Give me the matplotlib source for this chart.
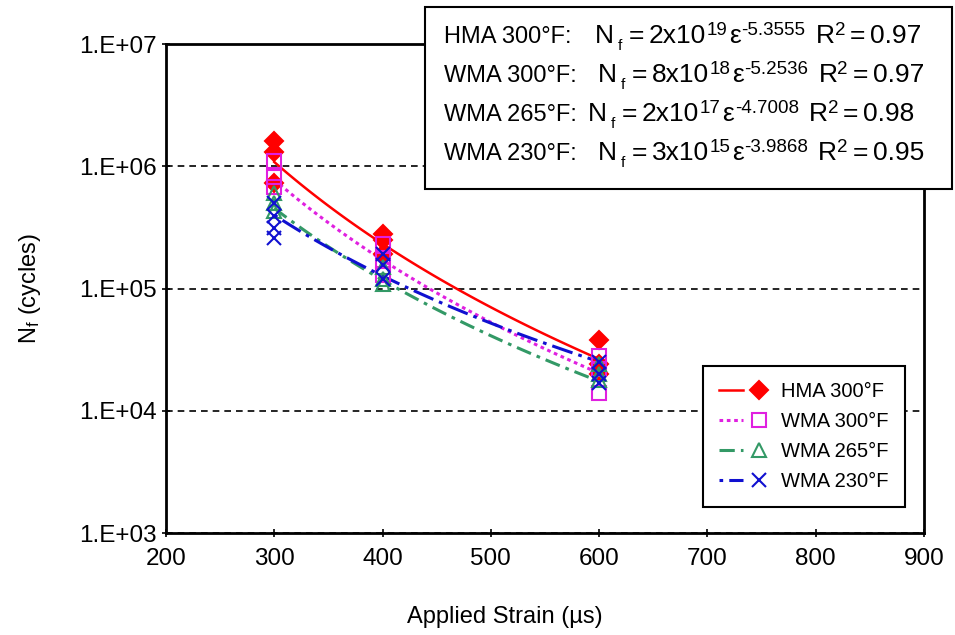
import numpy as np
import matplotlib
matplotlib.use("Agg")
import matplotlib.pyplot as plt
from matplotlib.lines import Line2D
from matplotlib.legend_handler import HandlerTuple
from matplotlib.patches import Rectangle
from matplotlib.transforms import IdentityTransform
from matplotlib.ticker import FixedLocator, FuncFormatter, NullLocator

plt.rcParams['font.family'] = ['Liberation Sans', 'DejaVu Sans']
plt.rcParams['mathtext.fontset'] = 'custom'
plt.rcParams['mathtext.rm'] = 'Liberation Sans'
plt.rcParams['mathtext.default'] = 'regular'

mixes = ["HMA 300°F", "WMA 300°F", "WMA 265°F", "WMA 230°F"]
hma300_x = [300, 300, 300, 400, 400, 400, 600, 600, 600]
hma300_y = [1.6e6, 1.3e6, 7.3e5, 2.8e5, 2.5e5, 1.9e5, 3.8e4, 2.4e4, 2.0e4]
wma300_x = [300, 300, 300, 400, 400, 400, 600, 600, 600]
wma300_y = [1.1e6, 8.2e5, 6.8e5, 2.3e5, 1.7e5, 1.3e5, 2.8e4, 2.2e4, 1.4e4]
wma265_x = [300, 300, 300, 400, 400, 400, 600, 600, 600]
wma265_y = [6.0e5, 5.0e5, 4.3e5, 1.5e5, 1.2e5, 1.08e5, 2.4e4, 2.0e4, 1.8e4]
wma230_x = [300, 300, 300, 300, 400, 400, 400, 600, 600, 600]
wma230_y = [5.0e5, 3.9e5, 3.1e5, 2.6e5, 1.9e5, 1.55e5, 1.2e5, 2.5e4, 2.0e4, 1.7e4]

# power-law fits as printed in the box: Nf = a * eps^b
fit_a = [2e19, 8e18, 2e17, 3e15]
fit_b = [-5.3555, -5.2536, -4.7008, -3.9868]
fit_r2 = [0.97, 0.97, 0.98, 0.95]
a_mant = ["2x10", "8x10", "2x10", "3x10"]
a_exp = ["19", "18", "17", "15"]
lbl_txt = ["HMA 300°F:", "WMA 300°F:", "WMA 265°F:", "WMA 230°F:"]

colors = ["#ff0000", "#e020e0", "#339966", "#1010d0"]
styles = ["-", (0, (1.2, 1.2)), (0, (5, 2, 1.2, 2)), (0, (1.2, 2, 7, 2))]
markers = ["D", "s", "^", "x"]
xs = [hma300_x, wma300_x, wma265_x, wma230_x]
ys = [hma300_y, wma300_y, wma265_y, wma230_y]

fig = plt.figure(figsize=(9.55, 6.35), dpi=100)
ax = fig.add_axes([0.1738, 0.1606, 0.7937, 0.7701])

eps = np.linspace(300, 600, 100)
handles = []
for i in range(4):
    mfc = colors[i] if markers[i] == "D" else "none"
    ms = [9, 10, 10, 10][i]
    ax.plot(eps, fit_a[i] * eps ** fit_b[i], color=colors[i], ls=styles[i],
            lw=2.2 if i else 1.8, zorder=2)
    ax.plot(xs[i], ys[i], ls="none", marker=markers[i], ms=ms,
            mfc=mfc, mec=colors[i], mew=1.5, zorder=3)
    ln = Line2D([], [], color=colors[i], ls=styles[i], lw=2.2 if i else 1.8)
    mk = Line2D([], [], ls="none", marker=markers[i], ms=ms,
                mfc=mfc, mec=colors[i], mew=1.5)
    handles.append((ln, mk))

ax.set_yscale("log")
ax.set_xlim(200, 900)
ax.set_ylim(1e3, 1e7)
ax.set_xticks(range(200, 901, 100))
ax.yaxis.set_major_locator(FixedLocator([1e3, 1e4, 1e5, 1e6, 1e7]))
ax.yaxis.set_minor_locator(NullLocator())
ax.yaxis.set_major_formatter(FuncFormatter(lambda v, p: "1.E+%02d" % int(round(np.log10(v)))))
ax.tick_params(labelsize=17.5, length=6, width=1.2, direction="inout")
ax.tick_params(axis="x", pad=8)
ax.yaxis.grid(True, color="black", ls=(0, (4, 3)), lw=1.2)
for s in ax.spines.values():
    s.set_linewidth(2)

ax.set_xlabel("Applied Strain (µs)", fontsize=17, labelpad=26)
ax.xaxis.label.set_x(0.447)
ax.set_ylabel("N$_f$ (cycles)", fontsize=17, labelpad=26)

leg = ax.legend(handles, mixes, handler_map={tuple: HandlerTuple(ndivide=None, pad=0.2)},
                loc="upper left", bbox_to_anchor=(0.7084, 0.3415), borderaxespad=0,
                fontsize=14.5, handlelength=2.6, handletextpad=0.5, labelspacing=0.55,
                borderpad=0.8, fancybox=False, framealpha=1, edgecolor="black")
leg.get_frame().set_linewidth(1.5)

# equation box, text laid out piece by piece (pixel coords)
fig.patches.append(Rectangle((0.445, 0.702), 0.552, 0.287, transform=fig.transFigure,
                             facecolor="white", edgecolor="black", lw=1.5, zorder=5))
rend = fig.canvas.get_renderer()
H = 635


def put(x, y, s, size):
    t = fig.text(x, y, s, fontsize=size, va="baseline", ha="left",
                 transform=IdentityTransform(), zorder=6)
    return x + t.get_window_extent(renderer=rend).width


n_x = [595, 598, 588, 598]
for i in range(4):
    yb = H - (43 + 39 * i)
    put(444, yb, lbl_txt[i], 17)
    x = put(n_x[i], yb, "N", 19)
    x = put(x + 4, yb - 7, "f", 11)
    x = put(x + 6, yb, "=", 19)
    x = put(x + 5, yb, a_mant[i], 19)
    x = put(x + 1, yb + 8, a_exp[i], 13.5)
    x = put(x + 1, yb, "ε", 19)
    x = put(x + 1, yb + 8, "%.4f" % fit_b[i], 13.5)
    x = put(x + 10, yb, "R", 19)
    x = put(x, yb + 8, "2", 13.5)
    x = put(x + 5, yb, "=", 19)
    put(x + 5, yb, "%.2f" % fit_r2[i], 19)

fig.savefig("out.png", dpi=100)
